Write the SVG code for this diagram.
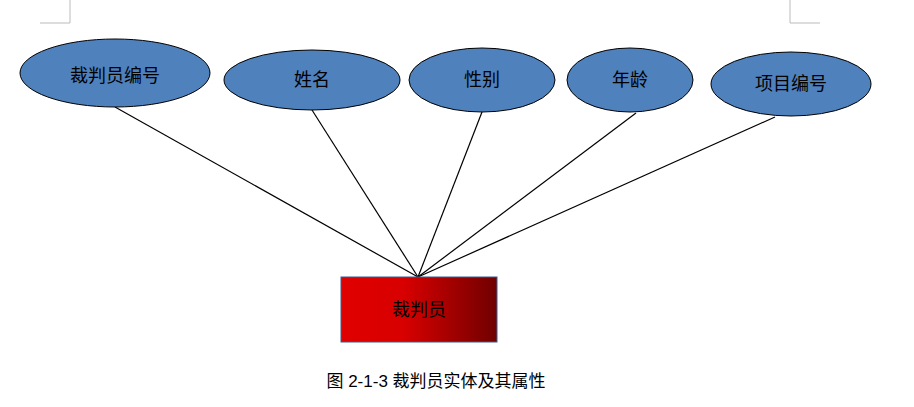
<svg xmlns="http://www.w3.org/2000/svg" width="914" height="407" viewBox="0 0 914 407">
<style>
.e{fill:#4f81bd;stroke:#000;stroke-width:1}
.t{font-family:"Liberation Sans","Noto Sans CJK SC",sans-serif;font-size:18px;fill:#000;text-anchor:middle;dominant-baseline:central}
.c{stroke:#000;stroke-width:1.2;fill:none}
.m{stroke:#bbb;stroke-width:1;fill:none}
</style>
<defs><linearGradient id="g" x1="0" x2="1" y1="0" y2="0"><stop offset="0" stop-color="#e00000"/><stop offset="0.4" stop-color="#d80000"/><stop offset="1" stop-color="#700000"/></linearGradient></defs>
<path class="m" d="M70 0V23H40M790 0V23H820"/>
<g id="connectors">
<line class="c" x1="115" y1="107" x2="418" y2="277"/>
<line class="c" x1="312" y1="110" x2="418" y2="277"/>
<line class="c" x1="482" y1="112" x2="418" y2="277"/>
<line class="c" x1="636" y1="113" x2="418" y2="277"/>
<line class="c" x1="775" y1="117" x2="418" y2="277"/>
</g>
<g id="n1"><ellipse class="e" cx="115" cy="73" rx="95" ry="34"/><text class="t" x="115" y="76">裁判员编号</text></g>
<g id="n2"><ellipse class="e" cx="312" cy="80" rx="88" ry="30"/><text class="t" x="312" y="80">姓名</text></g>
<g id="n3"><ellipse class="e" cx="482" cy="80" rx="73" ry="32"/><text class="t" x="482" y="80">性别</text></g>
<g id="n4"><ellipse class="e" cx="630" cy="80" rx="63" ry="32"/><text class="t" x="630" y="80">年龄</text></g>
<g id="n5"><ellipse class="e" cx="791" cy="84" rx="80" ry="32"/><text class="t" x="791" y="84">项目编号</text></g>
<g id="entity"><rect x="341" y="277" width="156" height="65" fill="url(#g)" stroke="#3a5f8f" stroke-width="1"/><text class="t" x="419" y="310">裁判员</text></g>
<text class="t" x="436" y="381" style="font-size:17px">图 2-1-3 裁判员实体及其属性</text>
</svg>
